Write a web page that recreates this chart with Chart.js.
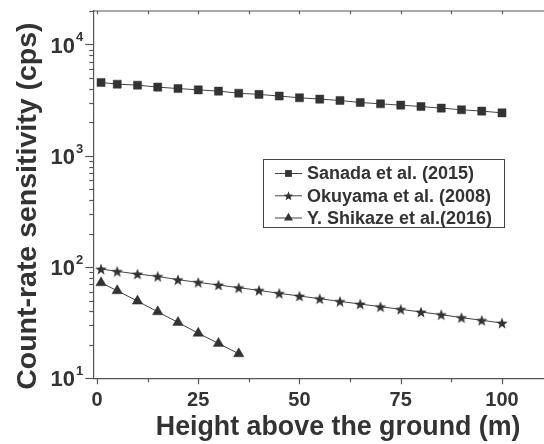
<!DOCTYPE html>
<html>
<head>
<meta charset="utf-8">
<script src="https://cdn.jsdelivr.net/npm/chart.js@4.4.1/dist/chart.umd.min.js"></script>
<style>
  html, body { margin: 0; padding: 0; background: #fff; overflow: hidden; }
  #wrap { width: 590px; height: 444px; }
</style>
</head>
<body>
<div id="wrap"><canvas id="myChart" width="590" height="444"></canvas></div>
<script>
// heights (m)
const heights = [1, 5, 10, 15, 20, 25, 30, 35, 40, 45, 50, 55, 60, 65, 70, 75, 80, 85, 90, 95, 100];
const shikazeHeights = [1, 5, 10, 15, 20, 25, 30, 35];

// count-rate sensitivity (cps)
const sanada = [4560, 4400, 4310, 4140, 4020, 3910, 3810, 3650, 3560, 3440, 3320,
    3230, 3140, 3010, 2930, 2850, 2770, 2680, 2590, 2520, 2430];
const okuyama = [95.9, 91.4, 86.5, 82.4, 76.9, 72.8, 68.9, 65.2, 61.7, 58.0, 54.9,
    51.9, 49.1, 46.5, 44.0, 41.7, 39.4, 37.3, 35.1, 33.2, 31.4];
const shikaze = [72.2, 61.2, 49.4, 39.6, 31.8, 25.4, 20.6, 16.6];

const seriesNames = ['Sanada et al. (2015)', 'Okuyama et al. (2008)', 'Y. Shikaze et al.(2016)'];

// axis ticks
const xTickValues = [0, 25, 50, 75, 100];
const yTickExponents = [1, 2, 3, 4];

const ink = '#333';
const axisColor = '#555';

function starPath(ctx, cx, cy, R) {
    const r = R * 0.42;
    ctx.beginPath();
    for (let i = 0; i < 10; i++) {
        const rad = (i % 2 === 0) ? R : r;
        const a = -Math.PI / 2 + i * Math.PI / 5;
        const px = cx + rad * Math.cos(a);
        const py = cy + rad * Math.sin(a);
        if (i === 0) ctx.moveTo(px, py); else ctx.lineTo(px, py);
    }
    ctx.closePath();
}

function makeStar(R) {
    const c = document.createElement('canvas');
    const s = Math.ceil(R * 2 + 2);
    c.width = s;
    c.height = s;
    const g = c.getContext('2d');
    g.fillStyle = ink;
    starPath(g, s / 2, s / 2 + R * 0.1, R);
    g.fill();
    return c;
}

const starImg = makeStar(6);

function toPoints(xs, ys) {
    return xs.map((x, i) => ({ x: x, y: ys[i] }));
}

const data = {
    datasets: [{
        label: seriesNames[0],
        data: toPoints(heights, sanada),
        borderColor: '#444',
        borderWidth: 1,
        backgroundColor: ink,
        pointBackgroundColor: ink,
        pointBorderColor: ink,
        pointStyle: 'rect',
        pointRadius: 5.7,
        pointBorderWidth: 0.5
    }, {
        label: seriesNames[1],
        data: toPoints(heights, okuyama),
        borderColor: '#444',
        borderWidth: 1,
        pointStyle: starImg,
        pointRadius: 6
    }, {
        label: seriesNames[2],
        data: toPoints(shikazeHeights, shikaze),
        borderColor: '#444',
        borderWidth: 1,
        backgroundColor: ink,
        pointBackgroundColor: ink,
        pointBorderColor: ink,
        pointStyle: 'triangle',
        pointRadius: 6,
        pointBorderWidth: 0.5
    }]
};

function legendMarker(ctx, style, x, y) {
    ctx.beginPath();
    if (style === 'star') {
        starPath(ctx, x, y + 0.5, 5);
    } else if (style === 'rect') {
        ctx.rect(x - 3.4, y - 3.4, 6.8, 6.8);
    } else {
        const r = 5.2;
        ctx.moveTo(x, y - r);
        ctx.lineTo(x + r * 0.866, y + r / 2);
        ctx.lineTo(x - r * 0.866, y + r / 2);
        ctx.closePath();
    }
    ctx.fill();
}

const axisDecor = {
    id: 'axisDecor',
    afterDraw(chart) {
        const ctx = chart.ctx;
        const area = chart.chartArea;
        const xs = chart.scales.x;
        const ys = chart.scales.y;
        ctx.save();
        ctx.strokeStyle = axisColor;
        ctx.lineWidth = 1.2;

        // top axis line
        ctx.beginPath();
        ctx.moveTo(area.left, area.top);
        ctx.lineTo(area.right, area.top);
        ctx.stroke();

        // x ticks: bottom (outward) and top (inward), every 12.5
        for (let v = 0; v <= xs.max; v += 12.5) {
            const px = Math.round(xs.getPixelForValue(v)) + 0.5;
            const major = xTickValues.includes(v);
            ctx.beginPath();
            ctx.moveTo(px, area.bottom);
            ctx.lineTo(px, area.bottom + (major ? 6 : 4));
            ctx.moveTo(px, area.top);
            ctx.lineTo(px, area.top + 3);
            ctx.stroke();
        }

        // y ticks: left (outward), majors at decades, minors 2..9
        for (const e of yTickExponents) {
            for (let m = 1; m <= 9; m++) {
                const v = m * Math.pow(10, e);
                if (v > ys.max) break;
                const py = Math.round(ys.getPixelForValue(v)) + 0.5;
                ctx.beginPath();
                ctx.moveTo(area.left, py);
                ctx.lineTo(area.left - (m === 1 ? 8 : 4), py);
                ctx.stroke();
            }
        }

        // y tick labels 10^n
        ctx.fillStyle = ink;
        for (const e of yTickExponents) {
            const py = ys.getPixelForValue(Math.pow(10, e));
            const right = area.left - 10;
            ctx.font = 'bold 13px "Liberation Sans", Arial, sans-serif';
            const ew = ctx.measureText(String(e)).width;
            ctx.textAlign = 'left';
            ctx.textBaseline = 'alphabetic';
            ctx.fillText(String(e), right - ew, py - 3);
            ctx.font = 'bold 22px "Liberation Sans", Arial, sans-serif';
            ctx.textAlign = 'right';
            ctx.textBaseline = 'middle';
            ctx.fillText('10', right - ew - 1, py + 2);
        }

        // y title
        ctx.save();
        ctx.translate(28, (area.top + area.bottom) / 2 + 11.5);
        ctx.rotate(-Math.PI / 2);
        ctx.font = 'bold 28.5px "Liberation Sans", Arial, sans-serif';
        ctx.textAlign = 'center';
        ctx.textBaseline = 'middle';
        ctx.fillText('Count-rate sensitivity (cps)', 0, 0);
        ctx.restore();

        // legend box
        const bx = 263.5, by = 159.5, bw = 241, bh = 68;
        ctx.strokeStyle = '#444';
        ctx.lineWidth = 1;
        ctx.strokeRect(bx, by, bw, bh);
        const rows = [173.5, 195.8, 218];
        const styles = ['rect', 'star', 'triangle'];
        ctx.font = 'bold 18px "Liberation Sans", Arial, sans-serif';
        for (let i = 0; i < seriesNames.length; i++) {
            const ry = rows[i];
            ctx.strokeStyle = '#444';
            ctx.beginPath();
            ctx.moveTo(275, ry);
            ctx.lineTo(302, ry);
            ctx.stroke();
            ctx.fillStyle = ink;
            legendMarker(ctx, styles[i], 288.5, ry);
            ctx.textAlign = 'left';
            ctx.textBaseline = 'middle';
            ctx.fillText(seriesNames[i], 307, ry + 1);
        }
        ctx.restore();
    }
};

const config = {
    type: 'line',
    data: data,
    plugins: [axisDecor],
    options: {
        responsive: false,
        animation: false,
        layout: { padding: { left: 0, top: 11, right: 4, bottom: 0 } },
        plugins: {
            legend: { display: false },
            tooltip: { enabled: false }
        },
        scales: {
            x: {
                type: 'linear',
                min: -0.91,
                max: 120,
                afterBuildTicks: (scale) => {
                    scale.ticks = xTickValues.map(v => ({ value: v }));
                },
                afterFit: (scale) => { scale.height = 65.7; },
                grid: { display: false, drawTicks: false },
                border: { display: true, color: axisColor, width: 1.2 },
                ticks: {
                    padding: 10,
                    color: ink,
                    maxRotation: 0,
                    autoSkip: false,
                    font: { family: '"Liberation Sans", Arial, sans-serif', size: 20, weight: 'bold' }
                },
                title: {
                    display: true,
                    text: 'Height above the ground (m)',
                    color: ink,
                    padding: { top: 0, bottom: 0 },
                    font: { family: '"Liberation Sans", Arial, sans-serif', size: 26.8, weight: 'bold' }
                }
            },
            y: {
                type: 'logarithmic',
                min: 10,
                max: 20000,
                afterFit: (scale) => { scale.width = 93.3; },
                grid: { display: false, drawTicks: false },
                border: { display: true, color: axisColor, width: 1.2 },
                ticks: { display: false }
            }
        }
    }
};

const myChart = new Chart(document.getElementById('myChart'), config);
</script>
</body>
</html>
